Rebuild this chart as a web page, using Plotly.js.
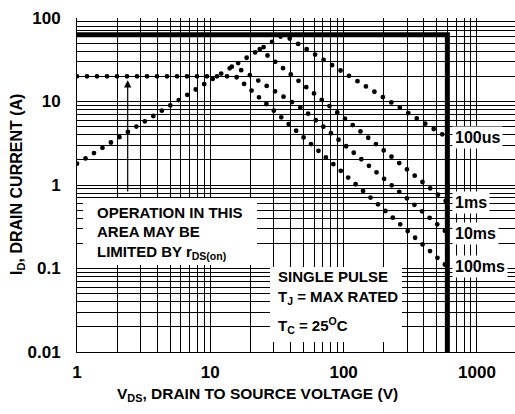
<!DOCTYPE html>
<html>
<head>
<meta charset="utf-8">
<script src="https://cdn.plot.ly/plotly-3.0.1.min.js"></script>
<style>
  html, body { margin: 0; padding: 0; background: #fff; }
  #chart { width: 515px; height: 414px; }
  .scatterlayer path.js-line { stroke-linecap: round; }
</style>
</head>
<body>
<div id="chart"></div>
<script>
// ---- data ----
// 100us curve (starts on the rDS(on) limit line)
const us100V = [1, 30, 34.5, 38.5, 600];
const us100I = [1.8, 54, 61.5, 58, 3.7];
// 1ms curve
const ms1V = [23.5, 600];
const ms1I = [42.3, 0.62];
// 10ms curve
const ms10V = [14.5, 17.7, 49.3, 600];
const ms10I = [26.1, 23.2, 8.13, 0.266];
// 100ms curve (starts with the 20 A level)
const ms100V = [1, 15.5, 600];
const ms100I = [20, 20, 0.105];
// maximum current / voltage limit (thick line)
const limitV = [1, 600, 600];
const limitI = [63, 63, 0.01];

const curveLabels = ['100us', '1ms', '10ms', '100ms'];

// tick values / labels
const xTickVals = [1, 10, 100, 1000];
const xTickText = ['1', '10', '100', '1000'];
const xGridVals = [2,3,4,5,6,7,8,9,20,30,40,50,60,70,80,90,200,300,400,500,600,700,800,900];
const yTickVals = [0.01, 0.1, 1, 10, 100];
const yTickText = ['0.01', '0.1', '1', '10', '100'];
const yGridVals = [0.02,0.03,0.04,0.05,0.06,0.07,0.08,0.09,0.2,0.3,0.4,0.5,0.6,0.7,0.8,0.9,2,3,4,5,6,7,8,9,20,30,40,50,60,70,80,90];

// ---- layout helpers (pixel -> paper) ----
const L = 77, T = 18, W = 515, H = 414, R = 0, B = 62;
const PW = W - L - R, PH = H - T - B;
const px = x => (x - L) / PW;
const py = y => (H - B - y) / PH;

const FONT = 'Liberation Sans, Arial, Helvetica, sans-serif';
const dotLine = {color: '#000', width: 4.8, dash: '0px,10px'};

const traces = [
  {x: limitV, y: limitI, mode: 'lines', line: {color: '#000', width: 5}, hoverinfo: 'skip'},
  {x: us100V, y: us100I, mode: 'lines', line: dotLine, name: curveLabels[0]},
  {x: ms1V, y: ms1I, mode: 'lines', line: dotLine, name: curveLabels[1]},
  {x: ms10V, y: ms10I, mode: 'lines', line: dotLine, name: curveLabels[2]},
  {x: ms100V, y: ms100I, mode: 'lines', line: dotLine, name: curveLabels[3]}
];

const ends = [us100I, ms1I, ms10I, ms100I].map(a => a[a.length - 1]);

const annotations = [];
curveLabels.forEach((lab, i) => {
  annotations.push({
    xref: 'paper', yref: 'y', x: px(452), y: Math.log10(ends[i]),
    xanchor: 'left', yanchor: 'middle', text: lab, showarrow: false,
    bgcolor: '#fff', borderpad: 2,
    font: {family: FONT, size: 16, color: '#000', weight: 700}
  });
});

function txt(t, xp, yp, size) {
  annotations.push({
    xref: 'paper', yref: 'paper', x: px(xp), y: py(yp),
    xanchor: 'left', yanchor: 'middle', text: t, showarrow: false,
    font: {family: FONT, size: size || 15, color: '#000', weight: 700}
  });
}
txt('OPERATION IN THIS', 95, 212);
txt('AREA MAY BE', 95, 231);
txt('LIMITED BY r<sub>DS(on)</sub>', 95, 252);
txt('SINGLE PULSE', 276, 276);
txt('T<sub>J</sub> = MAX RATED', 276, 297);
txt('T<sub>C</sub> = 25<sup>O</sup>C', 276, 325);

// arrow
annotations.push({
  xref: 'x', yref: 'y', axref: 'x', ayref: 'y',
  x: Math.log10(2.4), y: Math.log10(18), ax: Math.log10(2.4), ay: Math.log10(0.8),
  text: '', showarrow: true, arrowhead: 2, arrowsize: 1.2, arrowwidth: 1.2,
  arrowcolor: '#000', standoff: 0, startstandoff: 0
});

// axis titles
annotations.push({
  xref: 'paper', yref: 'paper', x: px(257), y: py(394), xanchor: 'center', yanchor: 'middle',
  text: 'V<sub>DS</sub>, DRAIN TO SOURCE VOLTAGE (V)', showarrow: false,
  font: {family: FONT, size: 15.5, color: '#000', weight: 700}
});
annotations.push({
  xref: 'paper', yref: 'paper', x: px(17), y: 0.5, xanchor: 'center', yanchor: 'middle',
  textangle: -90, text: 'I<sub>D</sub>, DRAIN CURRENT (A)', showarrow: false,
  font: {family: FONT, size: 16, color: '#000', weight: 700}
});

const shapes = [
  {type: 'rect', xref: 'paper', yref: 'paper', x0: px(83), x1: px(257), y0: py(265), y1: py(198),
   fillcolor: '#fff', line: {width: 0}, layer: 'above'},
  {type: 'rect', xref: 'paper', yref: 'paper', x0: px(270), x1: px(402), y0: py(342), y1: py(267),
   fillcolor: '#fff', line: {width: 0}, layer: 'above'}
];

const gridCommon = {showgrid: true, gridcolor: '#000', gridwidth: 1, ticks: ''};

const layout = {
  width: W, height: H,
  margin: {l: L, r: R, t: T, b: B, pad: 0},
  paper_bgcolor: '#fff', plot_bgcolor: '#fff',
  showlegend: false,
  font: {family: FONT, color: '#000'},
  xaxis: Object.assign({
    type: 'log', range: [0, Math.log10(1930)],
    tickmode: 'array', tickvals: xTickVals, ticktext: xTickText,
    minor: Object.assign({tickmode: 'array', tickvals: xGridVals}, gridCommon),
    showline: true, linecolor: '#000', linewidth: 1,
    zeroline: false, ticklabelstandoff: 5,
    tickfont: {family: FONT, size: 17, color: '#000', weight: 700}
  }, gridCommon),
  yaxis: Object.assign({
    type: 'log', range: [-2, 2],
    tickmode: 'array', tickvals: yTickVals, ticktext: yTickText,
    minor: Object.assign({tickmode: 'array', tickvals: yGridVals}, gridCommon),
    showline: true, linecolor: '#000', linewidth: 1,
    zeroline: false, ticklabelstandoff: 12,
    tickfont: {family: FONT, size: 17, color: '#000', weight: 700}
  }, gridCommon),
  annotations: annotations,
  shapes: shapes
};

Plotly.newPlot('chart', traces, layout, {staticPlot: true, displayModeBar: false});
</script>
</body>
</html>
